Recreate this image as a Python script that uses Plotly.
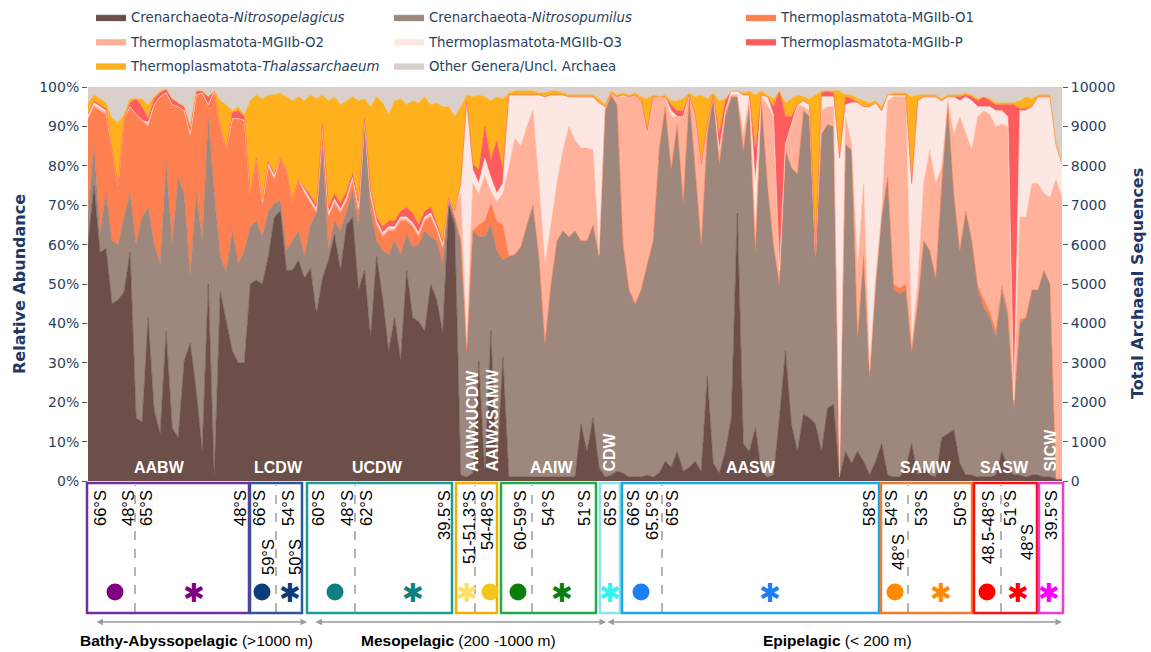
import plotly.graph_objects as go

# ---------------- data (relative abundance, % per sample) ----------------
samples = list(range(163))

nitrosopelagicus = [
    60, 75, 58, 59, 45, 46, 48, 58, 16, 15,
    41.5, 18, 12, 38, 13.5, 11, 30.5, 35, 23, 7.5,
    50, 1, 48, 40, 33, 30, 30, 50, 51, 50,
    57, 67, 68.5, 53.5, 53.5, 56, 51.5, 54, 42.5, 51.5,
    56, 62.5, 53.5, 65, 67, 48.5, 53.5, 36.5, 57, 46.5,
    33, 41.5, 30.5, 53.5, 41.5, 40.5, 38, 50, 46, 37.5,
    70, 65, 1.5, 1, 2, 30.5, 2, 38, 3.5, 31.5,
    1, 1, 1, 1, 1, 1, 1, 1, 1, 1,
    1, 1, 14.5, 7.5, 16, 3.5, 1, 1.5, 2.5, 2,
    1, 1, 1, 1.5, 1, 2, 5, 3.5, 7.5, 2.5,
    3.5, 5, 2.5, 26.5, 4.5, 2, 7.5, 16, 68, 9.5,
    7.5, 13.5, 2.5, 1, 1.5, 16, 33, 14.5, 7.5, 17,
    16, 14.5, 7.5, 18.5, 19.5, 1, 7.5, 4.5, 7.5, 5,
    1.5, 5, 9.5, 1.5, 1, 1, 3.5, 9.5, 1.5, 3.5,
    1.5, 1, 11, 12, 13, 4.5, 1.5, 1.5, 1, 1,
    1, 1.5, 7.5, 3.5, 1.5, 1.5, 1, 1.5, 1.5, 1,
    1, 0.5, 0.5]

nitrosopumilus = [
    8, 10, 5, 14, 16, 14, 19, 15, 44, 52,
    28, 42, 43, 43, 46.5, 66, 42.5, 17, 50, 53.5,
    42, 72, 9, 13, 30.5, 25, 28.5, 14.5, 15, 12,
    11.5, 3.5, 2.5, 5, 7.5, 7.5, 5.5, 11, 25.5, 32.5,
    2.5, 3.5, 10, 3.5, 6.5, 16.5, 37, 32, 4, 12,
    24.5, 19.5, 27, 9, 18, 19.5, 25.5, 12, 15, 17.5,
    1.5, 2, 59.5, 32, 61.5, 31.5, 60, 27, 55, 24.5,
    56, 56.5, 58.5, 64, 69, 56, 34, 49, 60, 62.5,
    61, 62.5, 46.5, 53.5, 49, 53.5, 93, 96.5, 93, 58,
    47.5, 44, 47.5, 53.5, 60, 82, 90, 75.5, 83, 68,
    94, 74, 57.5, 61.5, 93, 78.5, 85, 81.5, 29.5, 74.5,
    88, 45, 94, 74.5, 58.5, 34, 51, 65, 70.5, 77,
    76.5, 42.5, 80.5, 72, 70.5, 0, 78, 79.5, 29, 52,
    25, 45, 57.5, 75.5, 47.5, 46.5, 45, 23.5, 43.5, 57.5,
    57, 50.5, 64.5, 83.5, 60, 54, 67, 59.5, 47.5, 43,
    40.5, 35, 41, 38, 16.5, 38.5, 40.5, 47, 47, 52.5,
    49, 0, 0]

mgiib_o1 = [
    24, 10, 31, 20, 23, 15, 25, 22, 33, 24.5,
    20.5, 35.5, 42.5, 17.5, 35.5, 18, 21, 36, 25, 37.5,
    3.5, 26, 33, 31, 28.5, 37, 33, 8.5, 16, 8,
    11, 6, 11, 20.5, 10, 13, 16, 5.5, 0, 5,
    8.5, 4.5, 4.5, 2.5, 2.5, 3.5, 1, 3.5, 4, 3.5,
    6, 2.5, 8.5, 3.5, 5, 2, 2.5, 5, 2.5, 4,
    0.5, 0, 0, 0, 0, 3, 4, 5.5, 7.5, 9,
    0, 0, 0, 0, 0, 0, 0, 0, 0, 0,
    0, 0, 0, 0, 0, 0, 0, 0, 0, 0,
    0, 0, 0, 0, 0, 0, 0, 0.5, 0, 0.5,
    0, 0, 0, 0, 0, 0, 0, 0, 0, 0,
    0, 0, 0, 0, 0, 0, 0, 0, 0, 0,
    0, 0, 0, 0, 0, 0, 0, 0, 0, 0,
    0, 0, 0, 0, 1.5, 1.5, 1.5, 0, 0, 0,
    0, 0, 0, 0, 0, 0, 0, 0, 1, 2,
    1.5, 1.5, 1, 1.5, 1.5, 1, 0, 0, 0, 0,
    0, 0, 0]

mgiib_o2 = [
    0, 0.5, 0.5, 0.5, 0, 0, 0, 0, 0, 0,
    0.5, 0, 0, 0, 0, 0, 0, 0, 0, 0,
    0, 0, 0, 0, 0, 0, 0, 0, 0, 0.5,
    0.5, 0.5, 0, 0, 0, 0, 0.5, 0.5, 0.5, 0.5,
    0.5, 0.5, 0.5, 0.5, 0.5, 0.5, 0, 0.5, 0.5, 0.5,
    0.5, 0.5, 0.5, 0.5, 0.5, 0.5, 0.5, 0.5, 0.5, 0.5,
    0, 1.5, 12, 2, 12, 8, 11.5, 3, 5, 8,
    22.5, 29.5, 25.5, 25, 24, 18.5, 20, 15, 14.5, 20.5,
    28, 23, 23.5, 23.5, 19, 0.5, 1, 0.5, 2, 37.5,
    49, 53, 48, 33, 36.5, 13.5, 2.5, 13, 2, 21.5,
    0.5, 13.5, 20.5, 2.5, 0.5, 3.5, 1.5, 0.5, 0.5, 4,
    2, 4, 1, 20, 32.5, 3.5, 1.5, 10.5, 17.5, 1,
    1.5, 0.5, 6, 4.5, 5, 1, 7, 1.5, 17, 18.5,
    1.5, 1, 1, 19.5, 47.5, 48.5, 47.5, 2, 5, 14.5,
    25.5, 24, 4, 1, 15, 34, 19.5, 23, 43, 48,
    50, 52, 41, 47, 1, 26, 25.5, 27, 27, 19.5,
    22, 76, 71.5]

mgiib_o3 = [
    1, 0.5, 0.5, 0.5, 0, 0, 0, 0, 0, 0,
    0.5, 0, 0, 0, 0, 0, 0, 0, 0, 0,
    0, 0, 0, 0, 0, 0, 0, 0, 0, 0.5,
    0.5, 0.5, 0, 0, 0, 0, 0.5, 0.5, 0.5, 0.5,
    0.5, 0.5, 0.5, 0.5, 0.5, 0.5, 0, 0.5, 0.5, 0.5,
    0.5, 0.5, 0.5, 0.5, 0.5, 0.5, 0.5, 0.5, 0.5, 0.5,
    0, 0, 2.5, 61.5, 3.5, 2.5, 4.5, 3.5, 2, 2.5,
    18.5, 11, 13, 8, 4, 22.5, 42.5, 33, 22.5, 14,
    7.5, 11, 13, 13, 13.5, 38.5, 0, 0, 0, 0.5,
    0, 0, 0, 0, 0, 0, 0, 1.5, 0, 0,
    0, 0, 0, 0, 0, 0, 0, 1, 1, 10,
    0.5, 13, 0.5, 2, 0.5, 0, 0, 0.5, 0, 1.5,
    1.5, 0, 3.5, 2.5, 2.5, 80, 3, 10.5, 42.5, 19.5,
    67, 45, 26, 1.5, 0.5, 0.5, 0.5, 40.5, 46.5, 22,
    13.5, 22, 17, 1, 9.5, 4, 9.5, 12.5, 2.5, 1,
    2, 4, 3.5, 2.5, 0, 27, 27, 19.5, 22, 24.5,
    25.5, 9, 8.5]

mgiib_p = [
    0, 0.5, 0.5, 0.5, 0, 0, 0, 1, 4, 3.5,
    1, 1.5, 1, 1, 1.5, 1, 1, 2, 1, 0.5,
    2, 0, 0, 0, 1.5, 2, 1, 0, 0, 0.5,
    0.5, 0.5, 0, 0, 0, 0, 0.5, 1, 1, 0.5,
    1.5, 1.5, 1.5, 1.5, 1, 1.5, 0.5, 1, 1, 1.5,
    1.5, 1.5, 1.5, 2.5, 2.5, 2, 1.5, 1.5, 1, 1,
    0, 0, 0, 0, 1.5, 3.5, 8, 4.5, 13.5, 3.5,
    0, 0, 0, 0, 0, 0, 0, 0, 0, 0,
    0, 0, 0, 0, 0, 0, 0, 0, 0, 0,
    0, 0, 0, 1, 0, 0, 0, 1.5, 1.5, 1.5,
    0, 0.5, 0, 0, 0, 4, 2.5, 0, 0, 0,
    0, 8.5, 0, 0, 2, 45.5, 7, 2, 0, 0,
    0, 0, 1, 1.5, 1, 0, 2, 1, 0, 0,
    0, 0, 0, 0, 0, 0, 0, 0, 0, 0,
    0, 0, 0, 0, 0, 1, 0.5, 1, 1.5, 2.5,
    1.5, 1.5, 1.5, 3, 75, 0.5, 0.5, 0, 0, 0,
    0, 0, 0]

thalassarchaeum = [
    3, 1.5, 1.5, 1.5, 8, 16, 1, 1, 0, 2,
    3.5, 0.5, 0.5, 0, 0, 0, 0, 0, 0, 0,
    0, 0, 6.5, 11.5, 0.5, 1, 0.5, 23.5, 16, 25.5,
    17, 20, 16.5, 18.5, 25.5, 21, 22, 25.5, 27, 7.5,
    27, 24.5, 25, 23, 19.5, 25.5, 5, 21, 30.5, 31.5,
    27, 30.5, 28.5, 26, 28.5, 31, 29, 26, 30.5, 34,
    23, 24, 19.5, 1.5, 17, 19, 7.5, 15, 11, 18,
    0.5, 1, 1, 1, 1, 0.5, 1, 1, 1, 0.5,
    0.5, 0.5, 0.5, 0.5, 0.5, 1, 0.5, 0.5, 0.5, 0.5,
    0.5, 0.5, 1, 8, 0.5, 0, 0.5, 1, 2.5, 3,
    0.5, 4.5, 17.5, 6.5, 0.5, 8.5, 0.5, 0, 0, 0.5,
    1, 14, 1, 0.5, 2, 0, 3.5, 4.5, 2.5, 1,
    1.5, 40.5, 0.5, 0, 0.5, 17, 0.5, 1, 1, 1.5,
    1, 0.5, 1, 0, 0.5, 0.5, 0.5, 22, 1.5, 0.5,
    0.5, 0.5, 0.5, 0.5, 0.5, 0.5, 0.5, 0.5, 0.5, 0,
    0.5, 0.5, 0.5, 0.5, 0.5, 2, 3, 2, 0.5, 0.5,
    0.5, 0.5, 0]

other = [
    4, 2, 3, 4, 8, 9, 7, 3, 3, 3,
    4.5, 2.5, 1, 0.5, 3, 4, 5, 10, 1, 1,
    2.5, 1, 3.5, 4.5, 6, 5, 7, 3.5, 2, 3,
    2, 2, 1.5, 2.5, 3.5, 2.5, 3.5, 2, 3, 2,
    3.5, 2.5, 4.5, 3.5, 2.5, 3.5, 3, 5, 2.5, 4,
    7, 3.5, 3, 4.5, 3.5, 4, 2.5, 4.5, 4, 5,
    5, 7.5, 5, 2, 2.5, 2, 2.5, 3.5, 2.5, 3,
    1.5, 1, 1, 1, 1, 1.5, 1.5, 1, 1, 1.5,
    2, 2, 2, 2, 2, 3, 4.5, 1, 2, 1.5,
    2, 1.5, 2.5, 3, 2, 2.5, 2, 3.5, 3.5, 3,
    1.5, 2.5, 2, 3, 1.5, 3.5, 3, 1, 1, 1.5,
    1, 2, 1, 2, 3, 1, 4, 3, 2, 2.5,
    3, 2, 1, 1, 1, 1, 2, 2, 3, 3.5,
    4, 3.5, 5, 2, 1.5, 1.5, 1.5, 2.5, 2, 2,
    2, 2, 3, 2, 2, 2, 1.5, 2, 3, 2.5,
    3, 4, 4, 4, 4, 3.5, 2.5, 3, 2, 2,
    2, 14, 19.5]

series_names = [
    "Crenarchaeota-<i>Nitrosopelagicus</i>",
    "Crenarchaeota-<i>Nitrosopumilus</i>",
    "Thermoplasmatota-MGIIb-O1",
    "Thermoplasmatota-MGIIb-O2",
    "Thermoplasmatota-MGIIb-O3",
    "Thermoplasmatota-MGIIb-P",
    "Thermoplasmatota-<i>Thalassarchaeum</i>",
    "Other Genera/Uncl. Archaea",
]
series_values = [nitrosopelagicus, nitrosopumilus, mgiib_o1, mgiib_o2,
                 mgiib_o3, mgiib_p, thalassarchaeum, other]
series_colors = ["#6b4f48", "#9e877d", "#fe7f50", "#ffb299",
                 "#fde7e3", "#fd5c5e", "#feb11c", "#d9d0cb"]
series_legend = ["legend", "legend2", "legend3", "legend",
                 "legend2", "legend3", "legend", "legend2"]

# water-mass labels inside the plot
water_masses_h = [("AABW", 159), ("LCDW", 278), ("UCDW", 377), ("AAIW", 552),
                  ("AASW", 751), ("SAMW", 926), ("SASW", 1004)]
water_masses_v = [("AAIWxUCDW", 472), ("AAIWxSAMW", 492), ("CDW", 609), ("SICW", 1050)]

# latitude labels (text, x-pixel, top-pixel)
lat_labels = [("66°S", 100, 488), ("48°S", 128, 488), ("65°S", 146, 488), ("48°S", 240, 488),
              ("66°S", 259, 488), ("59°S", 268, 537), ("54°S", 288, 488), ("50°S", 295, 537),
              ("60°S", 318, 488), ("48°S", 347, 488), ("62°S", 366, 488), ("39.5°S", 444, 488),
              ("51-51.3°S", 469, 488), ("54-48°S", 487, 488),
              ("60-59°S", 520, 488), ("54°S", 548, 488), ("51°S", 584, 488),
              ("65°S", 610, 488),
              ("66°S", 633, 488), ("65.5°S", 652, 488), ("65°S", 672, 488), ("58°S", 869, 488),
              ("54°S", 891, 488), ("48°S", 898, 532), ("53°S", 921, 488), ("50°S", 960, 488),
              ("48.5-48°S", 988, 488), ("51°S", 1010, 488), ("48°S", 1027, 522),
              ("39.5°S", 1051, 488)]

# ---------------- geometry helpers (pixel -> paper) ----------------
W, H = 1151, 652
ML, MR, MT, MB = 88, 89, 87, 171
PW = W - ML - MR
PH = H - MT - MB


def px(x):
    return (x - ML) / PW


def py(y):
    return (H - MB - y) / PH


fig = go.Figure()
for i, (nm, vals, col, lg) in enumerate(zip(series_names, series_values, series_colors, series_legend)):
    kw = dict(groupnorm="percent") if i == 0 else {}
    fig.add_trace(go.Scatter(
        x=samples, y=vals, name=nm, mode="lines", stackgroup="one",
        line=dict(width=0.6, color=col), fillcolor=col,
        legend=lg, legendgroup=nm, hoverinfo="skip", **kw))

# empty trace so that the right-hand axis is drawn
fig.add_trace(go.Scatter(x=[], y=[], yaxis="y2", showlegend=False,
                         hoverinfo="skip", mode="lines"))

shapes = []
annotations = []

# boxes
boxes = [(87, 249, "#7030a0"), (250, 302, "#2f5597"), (307, 452, "#1c9c98"),
         (456, 497, "#f2b000"), (501, 596, "#1fad4a"), (600, 620, "#8de4ef"),
         (622, 879, "#1ca7e3"), (881, 972, "#ed7d31"), (974, 1037, "#ff1010"),
         (1039, 1063, "#f03cd2")]
for x0, x1, c in boxes:
    shapes.append(dict(type="rect", xref="paper", yref="paper",
                       x0=px(x0), x1=px(x1), y0=py(613), y1=py(483),
                       line=dict(color=c, width=2.5)))
for xd in [135, 276, 355, 475, 532, 662, 908, 1001]:
    shapes.append(dict(type="line", xref="paper", yref="paper",
                       x0=px(xd), x1=px(xd), y0=py(612), y1=py(485),
                       line=dict(color="#8c8c8c", width=1.3, dash="dash")))

circles = [(115, "#800080"), (262, "#0b3d7a"), (335, "#0f8080"), (490, "#f6c51c"),
           (518, "#0a7f0a"), (641, "#1a7ff0"), (895, "#ff8a00"), (987, "#ff0000")]
for cx, c in circles:
    shapes.append(dict(type="circle", xref="paper", yref="paper",
                       x0=px(cx - 8.5), x1=px(cx + 8.5), y0=py(600.5), y1=py(583.5),
                       fillcolor=c, line=dict(width=0)))

stars = [(194, "#800080"), (290, "#0b3d7a"), (413, "#0f8080"), (467, "#ffe066"),
         (562, "#0a7f0a"), (610, "#33f3f3"), (770, "#1a7ff0"), (941, "#ff8a00"),
         (1018, "#ff0000"), (1049, "#ff00ff")]
for sx, c in stars:
    annotations.append(dict(x=px(sx), y=py(593), xref="paper", yref="paper",
                            text="✱", showarrow=False, xanchor="center", yanchor="middle",
                            font=dict(family="DejaVu Sans", size=26, color=c)))

for t, x in water_masses_h:
    annotations.append(dict(x=px(x), y=py(467), xref="paper", yref="paper", text=f"<b>{t}</b>",
                            showarrow=False, xanchor="center", yanchor="middle",
                            font=dict(family="Liberation Sans", size=16, color="white")))
for t, x in water_masses_v:
    annotations.append(dict(x=px(x), y=py(474), xref="paper", yref="paper", text=f"<b>{t}</b>",
                            showarrow=False, xanchor="center", yanchor="bottom", textangle=-90,
                            font=dict(family="Liberation Sans", size=16, color="white")))

for t, x, ytop in lat_labels:
    annotations.append(dict(x=px(x), y=py(ytop), xref="paper", yref="paper", text=t,
                            showarrow=False, xanchor="center", yanchor="top", textangle=-90,
                            font=dict(family="Liberation Sans", size=16.5, color="black")))

# zone arrows
for x0, x1 in [(95, 307), (314, 606), (606, 1062)]:
    annotations.append(dict(x=px(x1), y=py(622), xref="paper", yref="paper",
                            ax=-(x1 - x0), ay=0, text="", showarrow=True,
                            arrowhead=2, arrowside="end+start", arrowsize=1,
                            arrowwidth=1.3, arrowcolor="#9a9a9a",
                            standoff=0, startstandoff=0))

zones = [("<b>Bathy-Abyssopelagic</b> (>1000 m)", 196),
         ("<b>Mesopelagic</b> (200 -1000 m)", 458),
         ("<b>Epipelagic</b> (&lt; 200 m)", 837)]
for t, x in zones:
    annotations.append(dict(x=px(x), y=py(640), xref="paper", yref="paper", text=t,
                            showarrow=False, xanchor="center", yanchor="middle",
                            font=dict(family="Liberation Sans", size=15.5, color="black")))

# axis titles
annotations.append(dict(x=px(19), y=py(284), xref="paper", yref="paper",
                        text="<b>Relative Abundance</b>", showarrow=False, textangle=-90,
                        xanchor="center", yanchor="middle",
                        font=dict(family="DejaVu Sans", size=16, color="#1f3864")))
annotations.append(dict(x=px(1137), y=py(284), xref="paper", yref="paper",
                        text="<b>Total Archaeal Sequences</b>", showarrow=False, textangle=-90,
                        xanchor="center", yanchor="middle",
                        font=dict(family="DejaVu Sans", size=16, color="#1f3864")))

legend_common = dict(xref="container", yref="container", xanchor="left", yanchor="top",
                     orientation="v", tracegroupgap=4, bgcolor="rgba(0,0,0,0)",
                     font=dict(family="DejaVu Sans", size=13.3, color="#2a3f5f"))

fig.update_layout(
    width=W, height=H,
    margin=dict(l=ML, r=MR, t=MT, b=MB, pad=0, autoexpand=False),
    plot_bgcolor="white", paper_bgcolor="white",
    font=dict(family="DejaVu Sans", color="#2a3f5f"),
    showlegend=True,
    legend=dict(x=91 / W, y=1 - 2 / H, **legend_common),
    legend2=dict(x=389 / W, y=1 - 2 / H, **legend_common),
    legend3=dict(x=741 / W, y=1 - 2 / H, **legend_common),
    xaxis=dict(range=[0, 162], showticklabels=False, ticks="", showgrid=False,
               zeroline=False, showline=False, automargin=False),
    yaxis=dict(range=[0, 100], dtick=10, ticksuffix="%", ticks="outside", ticklen=5,
               tickcolor="#555", showgrid=False, zeroline=False, automargin=False,
               tickfont=dict(family="DejaVu Sans", size=14, color="#2a3f5f")),
    yaxis2=dict(range=[0, 10000], dtick=1000, tickformat="d", overlaying="y", side="right",
                anchor="x", ticks="outside", ticklen=5, tickcolor="#555", showgrid=False,
                zeroline=False, automargin=False,
                tickfont=dict(family="DejaVu Sans", size=14, color="#2a3f5f")),
    shapes=shapes,
    annotations=annotations,
    hovermode=False,
)

fig.write_html("out.html")
